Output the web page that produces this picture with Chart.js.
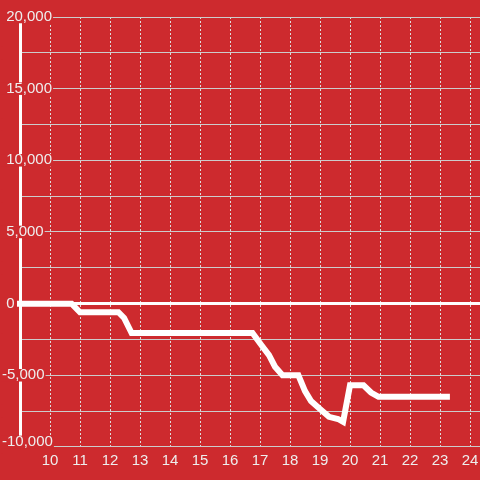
<!DOCTYPE html>
<html>
<head>
<meta charset="utf-8">
<script src="https://cdn.jsdelivr.net/npm/chart.js@4/dist/chart.umd.min.js"></script>
<style>
  html, body { margin: 0; padding: 0; background: #cd2a2e; }
  #wrap { width: 480px; height: 480px; }
</style>
</head>
<body>
<div id="wrap"><canvas id="c" width="480" height="480"></canvas></div>
<script>
// Hour of day (x) and cumulative value (y)
const hours  = [8.9, 10.72, 11.0, 12.28, 12.47, 12.72, 16.75, 17.05, 17.3, 17.5, 17.75, 18.28, 18.5, 18.7, 19.0, 19.3, 19.6, 19.77, 20.0, 20.45, 20.7, 20.95, 23.33];
const values = [0, 0, -600, -600, -1000, -2050, -2050, -2900, -3600, -4400, -5000, -5000, -6100, -6800, -7350, -7900, -8050, -8250, -5700, -5700, -6200, -6500, -6500];

const xTickValues = [10, 11, 12, 13, 14, 15, 16, 17, 18, 19, 20, 21, 22, 23, 24];
const xTickLabels = ['10', '11', '12', '13', '14', '15', '16', '17', '18', '19', '20', '21', '22', '23', '24'];
const yTickValues = [20000, 15000, 10000, 5000, 0, -5000, -10000];
const yTickLabels = ['20,000', '15,000', '10,000', '5,000', '0', '-5,000', '-10,000'];

const BG = '#cd2a2e';
const TEXT = '#eeeeee';
const FONT = "'Liberation Sans', Arial, sans-serif";
// the lowest y label sits a little above its grid line in the reference
const BOTTOM_LABEL_LIFT = 350;

const points = hours.map((h, i) => ({ x: h, y: values[i] }));
const yMin = Math.min(...yTickValues);
const liftedValue = yMin + BOTTOM_LABEL_LIFT;

new Chart(document.getElementById('c'), {
  type: 'line',
  data: {
    datasets: [{
      data: points,
      borderColor: '#ffffff',
      borderWidth: 6,
      pointRadius: 0,
      pointHoverRadius: 0,
      tension: 0,
      fill: false,
      borderCapStyle: 'butt',
      clip: { left: 3, right: 3, top: 3, bottom: 3 }
    }]
  },
  options: {
    responsive: false,
    animation: false,
    events: [],
    layout: { padding: { left: 2, top: 17, right: 0, bottom: 5 } },
    plugins: { legend: { display: false }, tooltip: { enabled: false } },
    scales: {
      x: {
        type: 'linear',
        min: 9,
        max: 24.333,
        afterBuildTicks: s => { s.ticks = s.ticks.filter(t => Number.isInteger(t.value)); },
        border: { display: false, dash: [2, 2] },
        grid: {
          drawTicks: false,
          lineWidth: 1,
          color: ctx => (ctx.tick && xTickValues.includes(ctx.tick.value)) ? '#dddddd' : 'rgba(0,0,0,0)'
        },
        ticks: {
          stepSize: 1,
          includeBounds: false,
          autoSkip: false,
          maxRotation: 0,
          padding: 0,
          color: TEXT,
          font: { family: FONT, size: 15, lineHeight: 1.87 },
          callback: v => {
            const i = xTickValues.indexOf(v);
            return i >= 0 ? xTickLabels[i] : '';
          }
        }
      },
      y: {
        min: -10000,
        max: 20000,
        afterFit: s => { s.width = 18; },
        afterBuildTicks: s => {
          s.ticks.splice(1, 0, { value: liftedValue });
        },
        border: { display: true, color: '#ffffff', width: 3 },
        grid: {
          drawTicks: false,
          color: ctx => {
            if (!ctx.tick) return '#cccccc';
            if (ctx.tick.value === liftedValue) return 'rgba(0,0,0,0)';
            return ctx.tick.value === 0 ? '#ffffff' : '#cccccc';
          },
          lineWidth: ctx => (ctx.tick && ctx.tick.value === 0) ? 3 : 1
        },
        ticks: {
          stepSize: 2500,
          autoSkip: false,
          mirror: true,
          crossAlign: 'near',
          padding: -18,
          color: TEXT,
          font: { family: FONT, size: 15, lineHeight: 0.7 },
          showLabelBackdrop: true,
          backdropColor: BG,
          backdropPadding: 1,
          callback: v => {
            if (v === liftedValue) return yTickLabels[yTickValues.indexOf(yMin)];
            if (v === yMin) return '';
            const i = yTickValues.indexOf(v);
            if (i < 0) return '';
            const lab = yTickLabels[i];
            return v < 0 ? lab : ' ' + lab;
          }
        }
      }
    }
  }
});
</script>
</body>
</html>
